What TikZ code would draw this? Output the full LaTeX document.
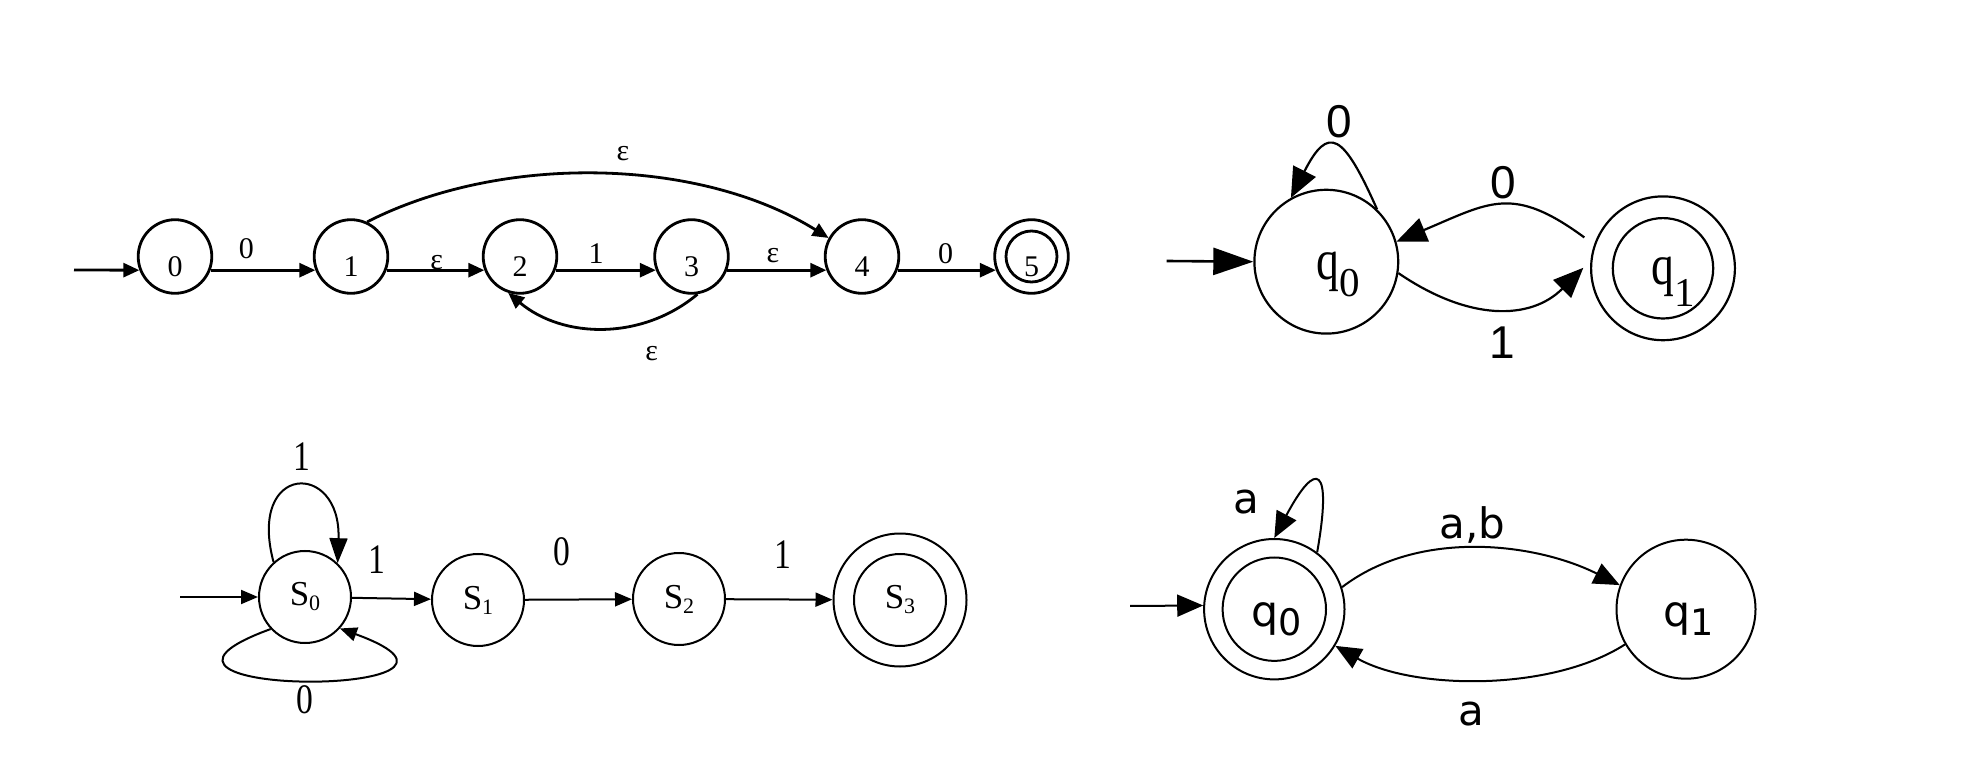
\documentclass[tikz,border=0pt]{standalone}
\usepackage{fontspec}
\setmainfont{Liberation Serif}
\newfontfamily\serifnarrow[FakeStretch=0.8]{Liberation Serif}
\newfontfamily\qserif[FakeStretch=0.8]{Liberation Serif}
\newfontfamily\sansf{Liberation Sans}
\newfontfamily\dejasans{DejaVu Sans}
\usetikzlibrary{arrows.meta,shapes.geometric}
\tikzset{
  % diagram 1
  stA/.style={circle, draw, line width=2.8pt, minimum size=73.6pt, inner sep=0pt,
    font=\fontsize{30}{30}\selectfont, text height=40pt, text depth=0pt},
  edA/.style={line width=2.8pt, -{Triangle[length=16pt,width=14pt]}},
  lbA/.style={font=\fontsize{30}{30}\selectfont, inner sep=0pt},
  % diagram 2
  stB/.style={circle, draw, line width=2.2pt, minimum size=143.8pt, inner sep=0pt},
  edB/.style={line width=2.2pt, -{Triangle[length=30pt,width=25pt]}},
  inB/.style={line width=2.6pt, -{Triangle[length=40pt,width=27pt]}},
  lbB/.style={font=\sansf\fontsize{46}{46}\selectfont, inner sep=0pt},
  % diagram 3
  stC/.style={circle, draw, line width=2pt, minimum size=92pt, inner sep=0pt,
    font=\fontsize{35}{35}\selectfont},
  edC/.style={line width=2pt, -{Triangle[length=17pt,width=14pt]}},
  edCbig/.style={line width=2pt, -{Triangle[length=25pt,width=18pt]}},
  lbC/.style={font=\serifnarrow\fontsize{42}{42}\selectfont, inner sep=0pt},
  % diagram 4
  stD/.style={circle, draw, line width=2pt, minimum size=140pt, inner sep=0pt,
    font=\dejasans\fontsize{42.7}{42.7}\selectfont, text height=35pt, text depth=0pt},
  edD/.style={line width=2pt, -{Triangle[length=26pt,width=22pt]}},
  lbD/.style={font=\dejasans\fontsize{42}{42}\selectfont, inner sep=0pt},
}
\begin{document}
\begin{tikzpicture}[x=1pt,y=1pt]
\fill[white] (0,0) rectangle (1981,780);
\useasboundingbox (0,0) rectangle (1981,780);

% ---------------- Diagram 1 ----------------
\node[stA] (a0) at (175,523.5) {0};
\node[stA] (a1) at (351,523.5) {1};
\node[stA] (a2) at (520,523.5) {2};
\node[stA] (a3) at (691.5,523.5) {3};
\node[stA] (a4) at (862,523.5) {4};
\node[stA] (a5) at (1031.5,523.5) {5};
\draw[line width=2.8pt] (a5) circle[radius=25.5pt];
\coordinate (i1) at (74,510);
\draw[edA] (i1) -- (a0.201);
\draw[edA] (a0.-21) -- (a1.201);
\draw[edA] (a1.-21) -- (a2.201);
\draw[edA] (a2.-21) -- (a3.201);
\draw[edA] (a3.-21) -- (a4.201);
\draw[edA] (a4.-21) -- (a5.201);
\draw[edA] (a1.65) to[out=27,in=148,looseness=0.84] (a4.151);
\draw[edA] (a3.-81) to[out=220,in=-40,looseness=0.97] (a2.252);
\node[lbA] (la01) at (246.4,531.7) {0};
\node[lbA] (la12) at (436.7,517.5) {ε};
\node[lbA] (la23) at (596,526.7) {1};
\node[lbA] (la34) at (773,524.5) {ε};
\node[lbA] (la45) at (945.7,526.7) {0};
\node[lbA] (la14) at (623,626.7) {ε};
\node[lbA] (la32) at (651.7,426) {ε};

% ---------------- Diagram 2 ----------------
\node[stB, text height=36pt, text depth=0pt] (b0) at (1326.3,518.3)
  {\hspace*{24pt}{\qserif\fontsize{57}{57}\selectfont q}\raisebox{-16.4pt}{\fontsize{41}{41}\selectfont 0}};
\node[stB, text height=32pt, text depth=0pt] (b1) at (1663,511.7)
  {\hspace*{21pt}{\qserif\fontsize{57}{57}\selectfont q}\raisebox{-22pt}{\fontsize{41}{41}\selectfont 1}};
\draw[line width=2.2pt] (b1) circle[radius=50.2pt];
\coordinate (i2) at (1166.7,519);
\draw[inB] (i2) -- (b0.west);
\draw[edB] (b0.46) to[out=114,in=63,looseness=2.44] (b0.119);
\draw[edB, shorten <=12pt] (b1.161) to[out=143.7,in=22.8,looseness=1.31] (b0.16);
\draw[edB, shorten >=10pt] (b0.-9.4) to[out=-34.4,in=225,looseness=1.13] (b1.174.3);
\node[lbB] (lb00) at (1339,658.3) {0};
\node[lbB] (lb10) at (1503,597.5) {0};
\node[lbB] (lb01) at (1502,437.5) {1};

% ---------------- Diagram 3 ----------------
\node[stC] (c0) at (305,183) {S\raisebox{-5pt}{\fontsize{22}{22}\selectfont 0}};
\node[stC] (c1) at (478,180) {S\raisebox{-5pt}{\fontsize{22}{22}\selectfont 1}};
\node[stC] (c2) at (679,181) {S\raisebox{-5pt}{\fontsize{22}{22}\selectfont 2}};
\node[stC, minimum size=133pt] (c3) at (900,180) {S\raisebox{-5pt}{\fontsize{22}{22}\selectfont 3}};
\draw[line width=2pt] (c3) circle[radius=46pt];
\coordinate (i3) at (180,183);
\draw[edC] (i3) -- (c0);
\draw[edC] (c0) -- (c1);
\draw[edC] (c1) -- (c2);
\draw[edC] (c2) -- (c3);
\draw[edCbig] (c0.132) to[out=105,in=88,looseness=4.1] (c0.46);
\draw[edC] (c0.223) to[out=200,in=-20,looseness=7.5] (c0.-42);
\node[lbC] (lc00a) at (302,323) {1};
\node[lbC] (lc01) at (377,220) {1};
\node[lbC] (lc12) at (562,228) {0};
\node[lbC] (lc23) at (783,225) {1};
\node[lbC] (lc00b) at (305,80) {0};

% ---------------- Diagram 4 ----------------
\node[stD, minimum size=140.4pt] (d0) at (1274.3,170.8)
  {\hspace*{5pt}q\raisebox{-8.3pt}{\fontsize{36.6}{36.6}\selectfont 0}};
\node[stD, minimum size=139pt] (d1) at (1686,170.8)
  {\hspace*{5pt}q\raisebox{-8.3pt}{\fontsize{36.6}{36.6}\selectfont 1}};
\draw[line width=2pt] (d0) circle[radius=51.7pt];
\coordinate (i4) at (1130,174);
\draw[edD] (i4) -- (d0.177);
\draw[edD] (d0.53.6) to[out=80,in=62,looseness=5.04] (d0.north);
\draw[edD] (d0.18.5) to[out=37.5,in=153.4,looseness=0.88] (d1.160.8);
\draw[edD] (d1.210.5) to[out=212.7,in=-29.7,looseness=0.78] (d0.-31);
\node[lbD] (ld00) at (1246.7,278.3) {a};
\node[lbD] (ld01) at (1472.5,255) {a,b};
\node[lbD] (ld10) at (1471.7,66) {a};
\end{tikzpicture}
\end{document}
